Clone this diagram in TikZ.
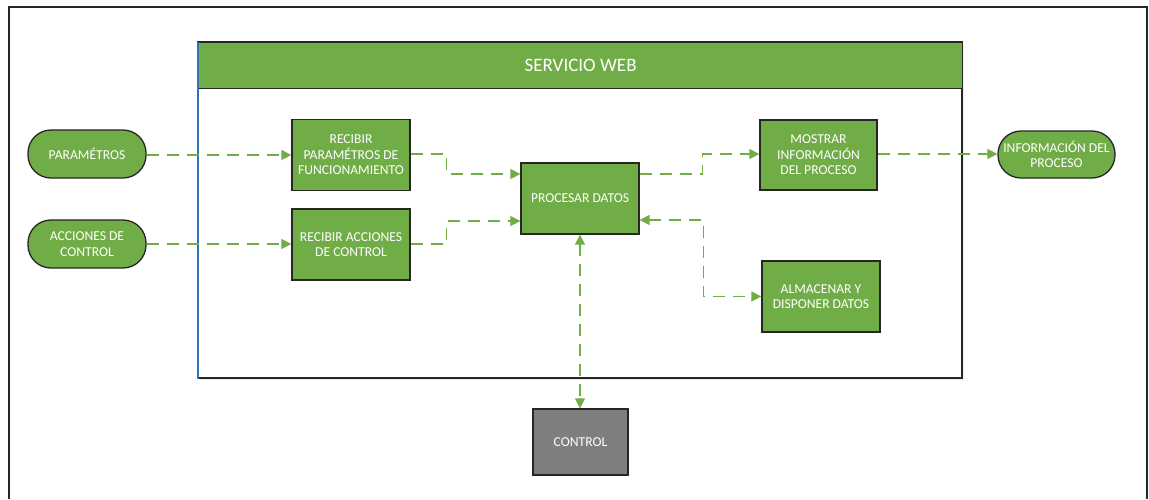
\documentclass[tikz,border=0pt]{standalone}
\usepackage{fontspec}
\setmainfont{Carlito}
\usetikzlibrary{arrows.meta,calc}
\definecolor{leaf}{HTML}{70AD47}
\definecolor{edge}{HTML}{262626}
\definecolor{slate}{HTML}{7F7F7F}
\definecolor{rim}{HTML}{2E75B6}
\tikzset{
  txt/.style={text=white,align=center,font=\fontsize{13.6}{15.5}\selectfont},
  stepbox/.style={txt,rectangle,fill=leaf,draw=edge,line width=1.3pt,
    minimum width=118pt,minimum height=71pt,inner sep=1pt},
  pill/.style={txt,rectangle,rounded corners=23pt,fill=leaf,draw=edge,line width=1.3pt,
    minimum width=118pt,minimum height=48pt,inner sep=0pt},
  flow/.style={draw=leaf,line width=1.5pt,dash pattern=on 12pt off 8pt,
    -{Triangle[length=10pt,width=10pt]}},
  dflow/.style={flow,{Triangle[length=10pt,width=10pt]}-{Triangle[length=10pt,width=10pt]}}
}
\begin{document}
\begin{tikzpicture}[x=1pt,y=-1pt]
\useasboundingbox (0,0) rectangle (1149,499);
\fill[white] (0,0) rectangle (1149,499);

% outer frame, open at the bottom
\draw[edge,line width=2pt] (9,499) -- (9,7) -- (1147,7) -- (1147,499);

% web service container with its title band
\fill[blue!8] (200,44) rectangle (964,380);
\draw[fill=white,draw=edge,line width=1.3pt] (198,42) rectangle (962,378);
\node[fill=leaf,draw=edge,line width=1.3pt,minimum width=764pt,minimum height=46pt,
  inner sep=0pt,anchor=north west,text=white,font=\fontsize{19}{22}\selectfont]
  (title) at (198,42) {SERVICIO WEB};
\draw[rim,line width=1.3pt] (198,41.5) -- (198,378.5);

% inputs and outputs
\node[pill] (par) at (87,154) {PARAMÉTROS};
\node[pill] (acc) at (87,244) {ACCIONES DE\\CONTROL};
\node[pill,minimum width=117pt,minimum height=47pt] (info) at (1056.5,154.5) {INFORMACIÓN DEL\\PROCESO};

% processing steps
\node[stepbox] (rp) at (351,155) {RECIBIR\\PARAMÉTROS DE\\FUNCIONAMIENTO};
\node[stepbox] (ra) at (351,244.5) {RECIBIR ACCIONES\\DE CONTROL};
\node[stepbox] (proc) at (580,198.5) {PROCESAR DATOS};
\node[stepbox,minimum width=117pt,minimum height=70pt] (show) at (818.5,155) {MOSTRAR\\INFORMACIÓN\\DEL PROCESO};
\node[stepbox] (store) at (821,296.5) {ALMACENAR Y\\DISPONER DATOS};
\node[stepbox,fill=slate,minimum width=95pt,minimum height=66pt] (ctrl) at (580.5,442) {CONTROL};

% connectors
\draw[flow] ([yshift=-1pt]par.east) -- ([yshift=-1pt]par.east -| rp.west);
\draw[flow] (acc.east) -- (acc.east -| ra.west);
\draw[flow] ([yshift=1pt]rp.east) -- ++(36,0) |- ([yshift=24.5pt]proc.west);
\draw[flow] ([yshift=0.5pt]ra.east) -- ++(36,0) |- ([yshift=-22.5pt]proc.west);
\draw[flow] ([yshift=24.5pt]proc.east) -- ++(63,0) |- ([yshift=1pt]show.west);
\draw[flow] ([yshift=1pt]show.east) -- ([yshift=0.5pt]info.west);
\draw[dflow] ([yshift=-21.5pt]proc.east) -- ++(64,0) |- (store.west);
\draw[dflow] (proc.south) -- (proc.south |- ctrl.north);
\end{tikzpicture}
\end{document}
